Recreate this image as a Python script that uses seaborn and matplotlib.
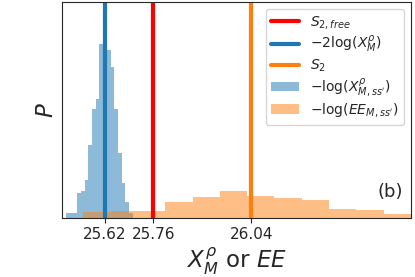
import numpy as np
import pandas as pd
import seaborn as sns
import matplotlib.pyplot as plt
from matplotlib.lines import Line2D
from matplotlib.patches import Patch

# histogram bins (bin centres and density heights)
x_centres = [25.5150, 25.5256, 25.5363, 25.5469, 25.5575, 25.5681, 25.5788, 25.5894,
             25.6000, 25.6106, 25.6212, 25.6319, 25.6425, 25.6531, 25.6637, 25.6744,
             25.6850, 25.6956]
x_density = [0.37, 0.37, 0.37, 1.81, 1.98, 2.79, 5.39, 8.05, 8.84, 12.92, 14.2,
             12.42, 11.19, 8.03, 4.81, 2.59, 1.14, 0.37]

ee_centres = [25.5984, 25.6766, 25.7548, 25.8330, 25.9112, 25.9894, 26.0676,
              26.1458, 26.2240, 26.3022, 26.3804, 26.4586]
ee_density = [0.40, 0.48, 0.52, 1.16, 1.56, 2.00, 1.61, 1.48, 1.31, 0.62, 0.57, 0.25]

s2_free = 25.76
x_rho = 25.62
s2 = 26.04
tick_vals = [25.62, 25.76, 26.04]
tick_labels = ["25.62", "25.76", "26.04"]

df_x = pd.DataFrame({"val": x_centres, "w": x_density})
df_ee = pd.DataFrame({"val": ee_centres, "w": ee_density})

sns.set_style("ticks")
fig = plt.figure(figsize=(4.15, 2.77), dpi=100)
ax = fig.add_axes([0.1494, 0.2141, 0.8410, 0.7787])

sns.histplot(data=df_x, x="val", weights="w", bins=18, binrange=(25.5097, 25.7009),
             color="#1f77b4", alpha=0.5, linewidth=0, ax=ax)
sns.histplot(data=df_ee, x="val", weights="w", bins=12, binrange=(25.5593, 26.4977),
             color="#ff7f0e", alpha=0.5, linewidth=0, ax=ax)

ax.axvline(s2_free, color="red", lw=3)
ax.axvline(x_rho, color="#1f77b4", lw=3)
ax.axvline(s2, color="#ff7f0e", lw=3)

ax.set_xlim(25.498, 26.498)
ax.set_ylim(0, 16.0)
ax.set_xticks(tick_vals)
ax.set_xticklabels(tick_labels, fontsize=11)
ax.set_yticks([])
ax.set_xlabel(r"$X^{\rho}_M$ or $EE$", fontsize=16.5, labelpad=2)
ax.set_ylabel(r"$P$", fontsize=16.5, labelpad=3)
ax.text(0.977, 0.12, "(b)", transform=ax.transAxes, ha="right", va="center", fontsize=13)

handles = [
    Line2D([0], [0], color="red", lw=3),
    Line2D([0], [0], color="#1f77b4", lw=3),
    Line2D([0], [0], color="#ff7f0e", lw=3),
    Patch(facecolor="#1f77b4", alpha=0.5, linewidth=0),
    Patch(facecolor="#ff7f0e", alpha=0.5, linewidth=0),
]
labels = [r"$S_{2,free}$", r"$-2\log(X^{\rho}_M)$", r"$S_2$",
          r"$-\log(X^{\rho}_{M,ss'})$", r"$-\log(EE_{M,ss'})$"]
ax.legend(handles, labels, loc="upper right", fontsize=10, labelspacing=0.17)

fig.savefig("out.png", dpi=100)
